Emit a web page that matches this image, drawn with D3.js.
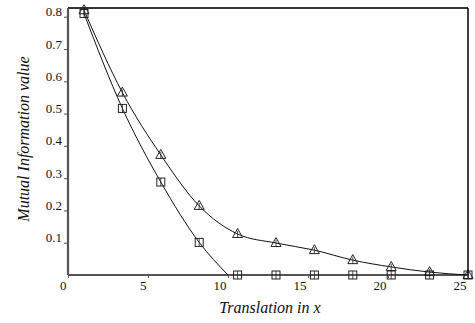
<!DOCTYPE html>
<html><head><meta charset="utf-8">
<script src="https://cdn.jsdelivr.net/npm/d3@7"></script>
<style>body{margin:0;background:#fff}svg{display:block}
text{font-family:"Liberation Serif","Times New Roman",Times,"DejaVu Serif",serif}</style>
</head><body>
<script>
const xValues = [1, 3.4, 5.8, 8.2, 10.6, 13, 15.4, 17.8, 20.2, 22.6, 25];
const triangleValues = [0.82, 0.565, 0.372, 0.214, 0.127, 0.099, 0.077, 0.046, 0.025, 0.009, 0];
const squareValues = [0.81, 0.516, 0.288, 0.101, 0, 0, 0, 0, 0, 0, 0];
// fitted curve for the square series (ends where it meets zero)
const squareCurveX = [1, 3.4, 5.8, 8.2, 10];
const squareCurveY = [0.81, 0.516, 0.288, 0.101, 0];
const xTicks = [0, 5, 10, 15, 20, 25];
const yTicks = [0.1, 0.2, 0.3, 0.4, 0.5, 0.6, 0.7, 0.8];

const W = 475, H = 323;
const m = {left: 68, top: 8, right: 7, bottom: 48};
const svg = d3.select("body").append("svg").attr("width", W).attr("height", H);
const x = d3.scaleLinear().domain([0, 25]).range([m.left, W - m.right]);
const y = d3.scaleLinear().domain([0, 0.827]).range([H - m.bottom, m.top]);

// frame top / right
svg.append("line").attr("x1", x(0)).attr("x2", x(25)).attr("y1", y(0.827)).attr("y2", y(0.827))
  .attr("stroke", "#333").attr("stroke-width", 2);
svg.append("line").attr("x1", x(25)).attr("x2", x(25)).attr("y1", y(0.827)).attr("y2", y(0))
  .attr("stroke", "#111").attr("stroke-width", 1.6);

// axes
const xAxis = svg.append("g").attr("transform", `translate(0,${y(0)})`)
  .call(d3.axisBottom(x).tickValues(xTicks).tickSize(3).tickFormat(d3.format("d")));
const yAxis = svg.append("g").attr("transform", `translate(${x(0)},0)`)
  .call(d3.axisLeft(y).tickValues(yTicks).tickSize(4).tickFormat(d3.format(".1f")));
[xAxis, yAxis].forEach(g => {
  g.attr("font-family", null);
  g.select(".domain").attr("stroke", "#555").attr("stroke-width", 2.2);
  g.selectAll(".tick line").attr("stroke", "#555").attr("stroke-width", 1);
  g.selectAll(".tick text").attr("font-size", 13).attr("fill", "#111");
});
xAxis.select(".domain").attr("d", `M${x(0)},0H${x(25)}`);
yAxis.select(".domain").attr("d", `M0,${y(0)}V${y(0.827)}`);
xAxis.selectAll(".tick text").attr("text-anchor", "end").attr("x", -2).attr("y", 15).attr("dy", 0);
yAxis.selectAll(".tick text").attr("text-anchor", "end").attr("x", -6).attr("y", -1).attr("dy", 0);

// curves
const triData = xValues.map((v, i) => [v, triangleValues[i]]);
const sqData = xValues.map((v, i) => [v, squareValues[i]]);
const sqCurve = squareCurveX.map((v, i) => [v, squareCurveY[i]]);
const line = d3.line().x(d => x(d[0])).y(d => y(d[1])).curve(d3.curveMonotoneX);
svg.append("path").attr("d", line(triData)).attr("fill", "none").attr("stroke", "#111").attr("stroke-width", 1);
svg.append("path").attr("d", line(sqCurve)).attr("fill", "none").attr("stroke", "#111").attr("stroke-width", 1);

// markers
const sq = svg.append("g");
sqData.forEach(d => {
  const cx = x(d[0]), cy = y(d[1]);
  sq.append("rect").attr("x", cx - 4).attr("y", cy - 4).attr("width", 8).attr("height", 8)
    .attr("fill", "none").attr("stroke", "#222").attr("stroke-width", 1);
  sq.append("line").attr("x1", cx).attr("x2", cx).attr("y1", cy - 4).attr("y2", cy + 4)
    .attr("stroke", "#222").attr("stroke-width", 0.8);
});
const tri = svg.append("g");
triData.forEach(d => {
  const cx = x(d[0]), cy = y(d[1]);
  tri.append("path").attr("d", `M${cx},${cy - 5.5}L${cx + 5},${cy + 3.5}L${cx - 5},${cy + 3.5}Z`)
    .attr("fill", "none").attr("stroke", "#222").attr("stroke-width", 1);
  tri.append("line").attr("x1", cx).attr("x2", cx).attr("y1", cy - 3).attr("y2", cy + 3.5)
    .attr("stroke", "#222").attr("stroke-width", 0.8);
});

// titles
svg.append("text").attr("x", 270).attr("y", 313).attr("text-anchor", "middle")
  .attr("font-style", "italic").attr("font-size", 16).attr("fill", "#111")
  .text("Translation in x");
svg.append("text").attr("transform", "translate(29,139) rotate(-90)").attr("text-anchor", "middle")
  .attr("font-style", "italic").attr("font-size", 16).attr("fill", "#111")
  .text("Mutual Information value");
</script>
</body></html>
